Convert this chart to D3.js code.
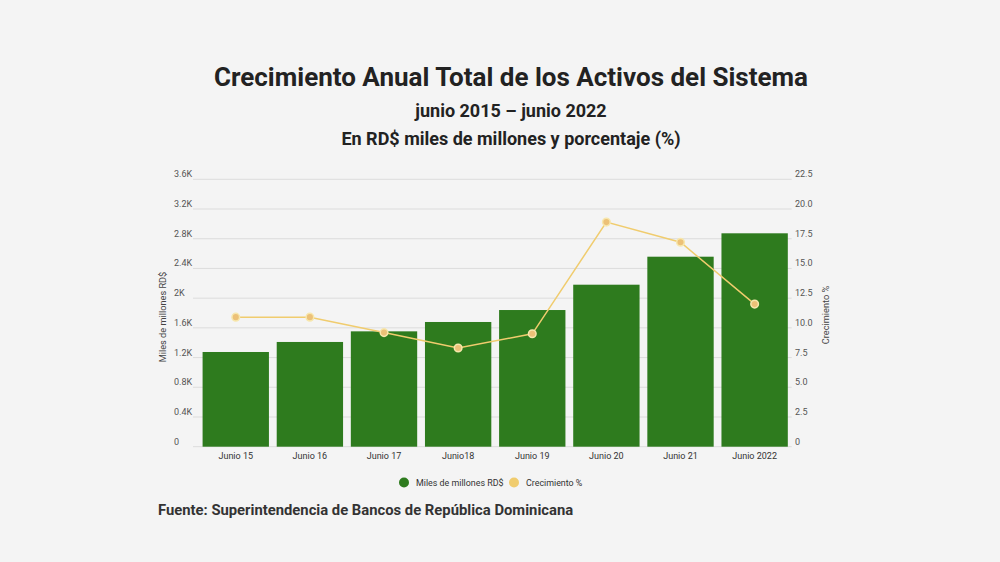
<!DOCTYPE html>
<html>
<head>
<meta charset="utf-8">
<script src="https://cdn.jsdelivr.net/npm/d3@7"></script>
<style>
  html, body { margin: 0; padding: 0; background: #f4f4f4; }
  svg { display: block; font-family: Roboto, "Noto Sans", sans-serif; }
</style>
</head>
<body>
<div id="chart"></div>
<script>
// Data
const categories = ["Junio 15", "Junio 16", "Junio 17", "Junio18", "Junio 19", "Junio 20", "Junio 21", "Junio 2022"];
const activos = [1275, 1410, 1553, 1679, 1840, 2181, 2558, 2873];   // miles de millones RD$
const crecimiento = [10.9, 10.9, 9.6, 8.3, 9.5, 18.9, 17.2, 12.0];  // %
const leftTicks = [0, 400, 800, 1200, 1600, 2000, 2400, 2800, 3200, 3600];
const rightTicks = [0, 2.5, 5, 7.5, 10, 12.5, 15, 17.5, 20, 22.5];

const width = 1000, height = 562;
const plot = {left: 198.7, right: 791.7, top: 179.3, bottom: 446.7};

const svg = d3.select("#chart").append("svg")
  .attr("width", width)
  .attr("height", height);

svg.append("rect")
  .attr("width", width)
  .attr("height", height)
  .attr("fill", "#f4f4f4");

// Titles
const titles = [
  {text: "Crecimiento Anual Total de los Activos del Sistema", y: 86, size: 26},
  {text: "junio 2015 \u2013 junio 2022", y: 117, size: 18},
  {text: "En RD$ miles de millones y porcentaje (%)", y: 145, size: 18}
];
svg.selectAll(".title")
  .data(titles)
  .join("text")
  .attr("class", "title")
  .attr("x", 511)
  .attr("y", d => d.y)
  .attr("text-anchor", "middle")
  .attr("font-weight", "bold")
  .attr("font-size", d => d.size)
  .attr("fill", "#222")
  .text(d => d.text);

// Scales
const x = d3.scaleBand()
  .domain(categories)
  .range([plot.left, plot.right])
  .paddingInner(0.105)
  .paddingOuter(0.0525);

const yLeft = d3.scaleLinear()
  .domain([0, 3600])
  .range([plot.bottom, plot.top]);

const yRight = d3.scaleLinear()
  .domain([0, 22.5])
  .range([plot.bottom, plot.top]);

// Gridlines
svg.append("g")
  .selectAll("line")
  .data(leftTicks)
  .join("line")
  .attr("x1", 193)
  .attr("x2", plot.right)
  .attr("y1", d => yLeft(d))
  .attr("y2", d => yLeft(d))
  .attr("stroke", "#dcdcdc")
  .attr("stroke-width", 1);

// Left axis labels
const fmtK = d => d === 0 ? "0" : (d / 1000) + "K";
svg.append("g")
  .style("font-size", "9px")
  .selectAll("text")
  .data(leftTicks)
  .join("text")
  .attr("x", 174)
  .attr("y", d => yLeft(d) - 2)
  .attr("fill", "#555")
  .text(fmtK);

// Right axis labels
svg.append("g")
  .style("font-size", "9px")
  .selectAll("text")
  .data(rightTicks)
  .join("text")
  .attr("x", 795)
  .attr("y", d => yRight(d) - 2)
  .attr("fill", "#555")
  .text(d => d === 0 ? "0" : d3.format(".1f")(d));

// Axis titles
svg.append("text")
  .attr("transform", `translate(166,${(plot.top + plot.bottom) / 2 + 4}) rotate(-90)`)
  .attr("text-anchor", "middle")
  .attr("font-size", 9.2)
  .attr("fill", "#444")
  .text("Miles de millones RD$");

svg.append("text")
  .attr("transform", `translate(829,${(plot.top + plot.bottom) / 2 + 2}) rotate(-90)`)
  .attr("text-anchor", "middle")
  .attr("font-size", 9.2)
  .attr("fill", "#444")
  .text("Crecimiento %");

// Bars
svg.append("g")
  .selectAll("rect")
  .data(categories)
  .join("rect")
  .attr("x", d => x(d))
  .attr("width", x.bandwidth())
  .attr("y", (d, i) => yLeft(activos[i]))
  .attr("height", (d, i) => plot.bottom - yLeft(activos[i]))
  .attr("fill", "#2e7b1e");

// X axis labels
svg.append("g")
  .style("font-size", "9px")
  .selectAll("text")
  .data(categories)
  .join("text")
  .attr("x", d => x(d) + x.bandwidth() / 2)
  .attr("y", 459)
  .attr("text-anchor", "middle")
  .attr("fill", "#333")
  .text(d => d);

// Growth line
const line = d3.line()
  .x((d, i) => x(categories[i]) + x.bandwidth() / 2)
  .y(d => yRight(d));

svg.append("path")
  .datum(crecimiento)
  .attr("d", line)
  .attr("fill", "none")
  .attr("stroke", "#f0cc6e")
  .attr("stroke-width", 1.5);

svg.append("g")
  .selectAll("circle")
  .data(crecimiento)
  .join("circle")
  .attr("cx", (d, i) => x(categories[i]) + x.bandwidth() / 2)
  .attr("cy", d => yRight(d))
  .attr("r", 3.8)
  .attr("fill", "#ecc178")
  .attr("stroke", "#f7e7ad")
  .attr("stroke-width", 1.5);

// Legend
const legend = [
  {label: "Miles de millones RD$", color: "#2e7b1e", x: 404},
  {label: "Crecimiento %", color: "#f0cc6e", x: 514}
];
const lg = svg.append("g")
  .selectAll("g")
  .data(legend)
  .join("g")
  .attr("transform", d => `translate(${d.x},482.5)`);
lg.append("circle")
  .attr("r", 5)
  .attr("fill", d => d.color);
lg.append("text")
  .attr("x", 12)
  .attr("y", 3.2)
  .attr("font-size", 8.9)
  .attr("fill", "#333")
  .text(d => d.label);

// Source
svg.append("text")
  .attr("x", 158)
  .attr("y", 515)
  .attr("font-size", 14.8)
  .attr("font-weight", "bold")
  .attr("fill", "#333")
  .text("Fuente: Superintendencia de Bancos de Rep\u00fablica Dominicana");
</script>
</body>
</html>
